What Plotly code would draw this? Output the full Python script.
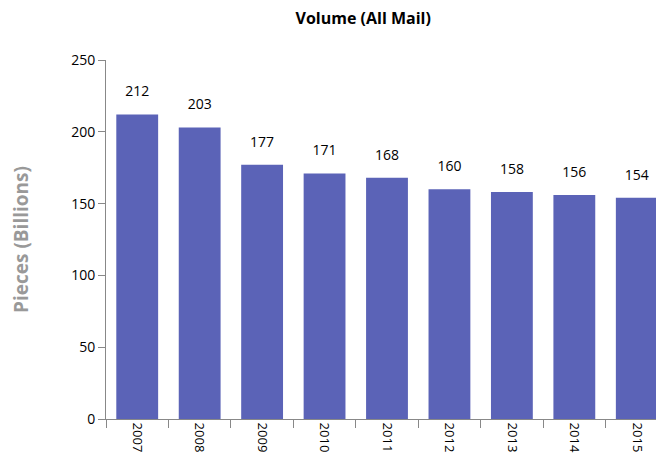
import plotly.graph_objects as go

years = ["2007", "2008", "2009", "2010", "2011", "2012", "2013", "2014", "2015"]
volume = [212, 203, 177, 171, 168, 160, 158, 156, 154]

font = "Open Sans, sans-serif"

fig = go.Figure()
fig.add_trace(go.Bar(
    x=years, y=volume,
    marker=dict(color="#5B63B7", line=dict(width=0)),
    width=0.67, hoverinfo="x+y",
))
fig.add_trace(go.Scatter(
    x=years, y=volume, mode="markers+text",
    marker=dict(size=22, opacity=0),
    text=[str(v) for v in volume], textposition="top center",
    textfont=dict(family=font, size=14, color="#000000"),
    cliponaxis=False, hoverinfo="skip",
))

fig.update_layout(
    width=664, height=476,
    paper_bgcolor="white", plot_bgcolor="white",
    margin=dict(l=98, r=4, t=52, b=65),
    title=dict(text="<b>Volume (All Mail)</b>", x=0.535, xanchor="center", y=0.979, yanchor="middle",
               font=dict(family=font, size=16, color="#000000")),
    showlegend=False,
    xaxis=dict(type="category", range=[-0.5, 8.5], tickangle=90, tickson="boundaries",
               ticks="outside", ticklen=8, tickcolor="#888888", automargin=False,
               showline=True, linecolor="#888888", linewidth=1,
               tickfont=dict(family=font, size=13, color="#000000")),
    yaxis=dict(range=[0, 250], dtick=50, ticks="outside", ticklen=7, tickcolor="#888888",
               showline=True, linecolor="#888888", linewidth=1, showgrid=False, zeroline=False,
               automargin=False,
               tickfont=dict(family=font, size=14, color="#000000"),
               title=dict(text="<b>Pieces (Billions)</b>", standoff=46,
                          font=dict(family=font, size=19, color="#999999"))),
)

fig.write_html("out.html")
